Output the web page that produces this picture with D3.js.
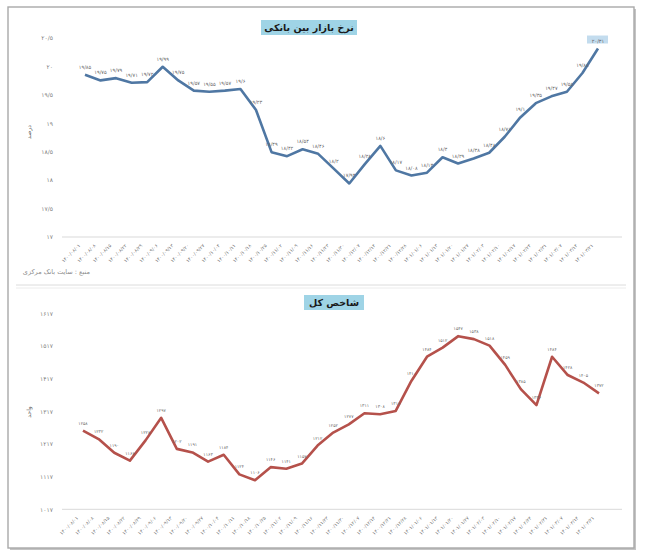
<!DOCTYPE html>
<html lang="fa">
<head>
<meta charset="UTF-8" />
<title>نرخ بازار بین بانکی و شاخص کل</title>
<script src="https://cdn.jsdelivr.net/npm/d3@7"></script>
<style>
  body { margin: 0; background: #fff; }
  text { font-family: "DejaVu Sans", sans-serif; }
</style>
</head>
<body>
<svg id="chart" width="645" height="559"></svg>
<script>
// weekly dates shared by both charts
const dates = [
  "1400/08/01", "1400/08/08", "1400/08/15", "1400/08/22", "1400/08/29", "1400/09/06",
  "1400/09/13", "1400/09/20", "1400/09/27", "1400/10/04", "1400/10/11", "1400/10/18",
  "1400/10/25", "1400/11/02", "1400/11/09", "1400/11/16", "1400/11/23", "1400/11/30",
  "1400/12/07", "1400/12/14", "1400/12/21", "1400/12/28", "1401/01/06", "1401/01/13",
  "1401/01/20", "1401/01/27", "1401/02/03", "1401/02/10", "1401/02/17", "1401/02/24",
  "1401/02/31", "1401/03/07", "1401/03/14", "1401/03/21"
];

// interbank rate (percent)
const rateValues = [
  19.85, 19.75, 19.79, 19.71, 19.72, 19.99, 19.75, 19.57, 19.55, 19.57,
  19.6, 19.23, 18.49, 18.42, 18.54, 18.46, 18.2, 17.94, 18.28, 18.6,
  18.17, 18.08, 18.13, 18.4, 18.29, 18.38, 18.48, 18.76, 19.1, 19.35,
  19.47, 19.55, 19.88, 20.31
];
const rateTicks = [17, 17.5, 18, 18.5, 19, 19.5, 20, 20.5];

// total index
const indexValues = [
  1258, 1232, 1190, 1166, 1228, 1297, 1202, 1191, 1163, 1184,
  1124, 1106, 1146, 1141, 1157, 1212, 1252, 1277, 1311, 1308,
  1318, 1410, 1484, 1512, 1547, 1538, 1518, 1459, 1385, 1336,
  1484, 1428, 1405, 1372
];
const indexTicks = [1017, 1117, 1217, 1317, 1417, 1517, 1617];

const faDigits = "۰۱۲۳۴۵۶۷۸۹";
const toFa = (v) => String(v).replace(/[0-9]/g, (d) => faDigits[d]).replace(/\./g, "/");

const svg = d3.select("#chart");

// outer frame with a soft shadow
svg.append("rect").attr("x", 10).attr("y", 9).attr("width", 626).attr("height", 541).attr("fill", "#c4c4c4");
svg.append("rect").attr("x", 8).attr("y", 7).attr("width", 626).attr("height", 541)
  .attr("fill", "#fff").attr("stroke", "#a9a9a9").attr("stroke-width", 1.4);
svg.append("line").attr("x1", 16).attr("x2", 626).attr("y1", 285).attr("y2", 285).attr("stroke", "#dcdcdc");
svg.append("line").attr("x1", 16).attr("x2", 626).attr("y1", 288).attr("y2", 288).attr("stroke", "#ececec");

function drawPanel(o) {
  const g = svg.append("g");
  const x = d3.scalePoint().domain(dates).range(o.xRange);
  const y = d3.scaleLinear().domain(d3.extent(o.ticks)).range(o.yRange);

  // baseline
  g.append("line")
    .attr("x1", 62).attr("x2", 622)
    .attr("y1", y(o.ticks[0])).attr("y2", y(o.ticks[0]))
    .attr("stroke", "#d9d9d9");

  // y axis
  const yAxis = g.append("g")
    .attr("transform", "translate(54,0)")
    .call(d3.axisLeft(y).tickValues(o.ticks).tickSize(0).tickPadding(1).tickFormat(toFa));
  yAxis.select(".domain").remove();
  yAxis.selectAll("text").attr("font-size", 6).attr("fill", "#808080")
    .attr("font-family", "DejaVu Sans");

  // x axis, rotated dates
  const xAxis = g.append("g")
    .attr("transform", `translate(0,${y(o.ticks[0])})`)
    .call(d3.axisBottom(x).tickSize(0).tickFormat(toFa));
  xAxis.select(".domain").remove();
  xAxis.selectAll("text")
    .attr("y", 0).attr("dy", 0)
    .attr("text-anchor", "end")
    .attr("transform", "translate(-5,9) rotate(-45)")
    .attr("font-size", 4.8).attr("fill", "#757575")
    .attr("font-family", "DejaVu Sans");

  // line
  const line = d3.line().x((d, i) => x(dates[i])).y((d) => y(d));
  g.append("path").datum(o.values)
    .attr("fill", "none").attr("stroke", o.color)
    .attr("stroke-width", 2.6).attr("stroke-linejoin", "round")
    .attr("d", line);

  // data labels
  g.append("g").attr("class", "labels").selectAll("text").data(o.values).enter().append("text")
    .attr("x", (d, i) => x(dates[i]))
    .attr("y", (d) => y(d) - 6)
    .attr("text-anchor", "middle")
    .attr("font-size", o.labelSize)
    .attr("fill", "#666")
    .text((d) => toFa(d));

  // title
  const t = o.title;
  g.append("rect").attr("x", t.x).attr("y", t.y).attr("width", t.w).attr("height", t.h).attr("fill", "#9fd4e6");
  g.append("text").attr("x", t.x + t.w / 2).attr("y", t.y + t.h / 2 + 3.5)
    .attr("text-anchor", "middle").attr("font-size", 9.5).attr("font-weight", "bold")
    .attr("fill", "#1a1a1a").text(t.text);

  // unit
  g.append("text")
    .attr("transform", `translate(31,${o.unitY}) rotate(-90)`)
    .attr("text-anchor", "middle").attr("font-size", 6).attr("fill", "#666")
    .text(o.unit);

  return { x, y, g };
}

const ratePanel = drawPanel({
  values: rateValues, ticks: rateTicks,
  xRange: [85, 598], yRange: [237, 37.7],
  color: "#4f77a3", labelSize: 5,
  title: { text: "نرخ بازار بین بانکی", x: 261, y: 20, w: 96, h: 15 },
  unit: "درصد", unitY: 132
});

// highlighted last rate label
const last = rateValues.length - 1;
const lx = ratePanel.x(dates[last]), ly = ratePanel.y(rateValues[last]);
ratePanel.g.insert("rect", ".labels")
  .attr("x", lx - 11).attr("y", ly - 13).attr("width", 21).attr("height", 8)
  .attr("fill", "#c3dcee");

const indexPanel = drawPanel({
  values: indexValues, ticks: indexTicks,
  xRange: [83, 599], yRange: [509.3, 313.3],
  color: "#b5514b", labelSize: 4.4,
  title: { text: "شاخص کل", x: 304, y: 295, w: 60, h: 15 },
  unit: "واحد", unitY: 412
});

// source note
svg.append("text").attr("x", 90).attr("y", 274)
  .attr("text-anchor", "end").attr("font-size", 6.5).attr("fill", "#8c8c8c")
  .text("منبع : سایت بانک مرکزی");
</script>
</body>
</html>
